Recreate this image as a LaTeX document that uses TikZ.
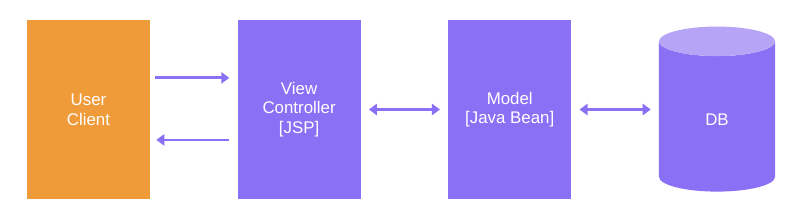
\documentclass[tikz,border=0pt]{standalone}
\usepackage{fontspec}
\setmainfont{Liberation Sans}
\usetikzlibrary{shapes.geometric, arrows.meta, positioning}
\definecolor{orangebox}{RGB}{240,155,58}
\definecolor{purplebox}{RGB}{137,112,245}
\definecolor{purpletop}{RGB}{182,165,247}
\tikzset{
  client/.style = {rectangle, fill=orangebox, text=white, align=center, minimum height=4.475cm, minimum width=3.075cm, font=\fontsize{12}{14}\selectfont},
  block/.style = {rectangle, fill=purplebox, text=white, align=center, minimum height=4.475cm, minimum width=3.075cm, font=\fontsize{12}{14}\selectfont},
  database/.style = {cylinder, shape border rotate=90, aspect=0.9, cylinder uses custom fill, cylinder body fill=purplebox, cylinder end fill=purpletop, text=white, minimum height=4.125cm, minimum width=2.9cm, font=\fontsize{12}{14}\selectfont},
  line/.style = {-{Triangle[length=0.2cm, width=0.28cm]}, line width=2pt, draw=purplebox},
  dline/.style = {{Triangle[length=0.2cm, width=0.28cm]}-{Triangle[length=0.2cm, width=0.28cm]}, line width=2pt, draw=purplebox}
}
\begin{document}
\begin{tikzpicture}[x=0.025cm, y=-0.025cm]
\useasboundingbox (0,0) rectangle (806,220);

% Boxes
\node[client] (user) at (88.5,109.5) {User\\Client};
\node[block, right=2.175cm of user] (view) {View\\Controller\\{[JSP]}};
\node[block, right=2.175cm of view] (model) {Model\\{[Java Bean]}};
\node[database] (db) at (717,119.5) {DB};

% Arrows
\draw[line] ([xshift=0.125cm, yshift=0.79cm]user.east) -- ([xshift=-0.2cm, yshift=0.79cm]view.west);
\draw[line] ([xshift=-0.2cm, yshift=-0.76cm]view.west) -- ([xshift=0.15cm, yshift=-0.76cm]user.east);
\draw[dline] ([xshift=0.2cm]view.east) -- ([xshift=-0.2cm]model.west);
\draw[dline] ([xshift=0.2cm]model.east) -- ([xshift=-0.2cm]model.east -| db.west);

\end{tikzpicture}
\end{document}
